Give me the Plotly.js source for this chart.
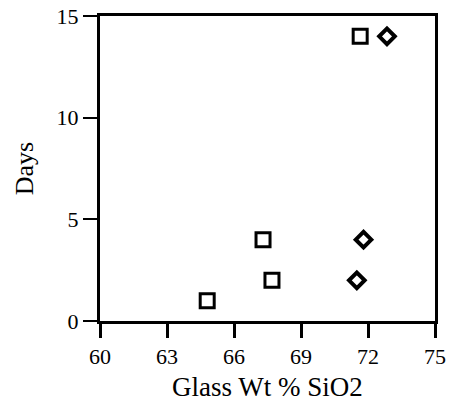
<!DOCTYPE html>
<html>
<head>
<meta charset="utf-8">
<script src="https://cdn.plot.ly/plotly-3.0.1.min.js"></script>
<style>html,body{margin:0;padding:0;background:#fff;}#chart{width:453px;height:406px;}</style>
</head>
<body>
<div id="chart"></div>
<script>
var squareX = [64.8, 67.3, 67.7, 71.65];
var squareY = [1, 4, 2, 14];
var diamondX = [72.85, 71.8, 71.5];
var diamondY = [14, 4, 2];
var xTicks = [60, 63, 66, 69, 72, 75];
var yTicks = [0, 5, 10, 15];

var font = {family: 'Liberation Serif, Times New Roman, serif', color: '#000'};
var traces = [
  {x: squareX, y: squareY, type: 'scatter', mode: 'markers',
   marker: {symbol: 'square-open', size: 14, color: '#000', line: {width: 3, color: '#000'}}},
  {x: diamondX, y: diamondY, type: 'scatter', mode: 'markers',
   marker: {symbol: 'diamond-open', size: 12, color: '#000', line: {width: 4, color: '#000'}}}
];
var layout = {
  width: 453, height: 406,
  margin: {l: 100, r: 18, t: 16, b: 85},
  showlegend: false,
  paper_bgcolor: '#fff', plot_bgcolor: '#fff',
  font: font,
  xaxis: {range: [60, 75], tickvals: xTicks, ticktext: xTicks.map(String),
    ticks: 'outside', ticklen: 14, tickwidth: 3, tickcolor: '#000',
    showline: true, linewidth: 3, linecolor: '#000', mirror: true,
    showgrid: false, zeroline: false,
    tickfont: {family: font.family, size: 22, color: '#000'},
    title: {text: 'Glass Wt % SiO2', font: {family: font.family, size: 27, color: '#000'}, standoff: 9}},
  yaxis: {range: [0, 15], tickvals: yTicks, ticktext: yTicks.map(String),
    ticks: 'outside', ticklen: 14, tickwidth: 2, tickcolor: '#000',
    showline: true, linewidth: 3, linecolor: '#000', mirror: true,
    showgrid: false, zeroline: false,
    tickfont: {family: font.family, size: 22, color: '#000'},
    title: {text: 'Days', font: {family: font.family, size: 26, color: '#000'}, standoff: 16}}
};
Plotly.newPlot('chart', traces, layout, {displayModeBar: false, staticPlot: true});
</script>
</body>
</html>
